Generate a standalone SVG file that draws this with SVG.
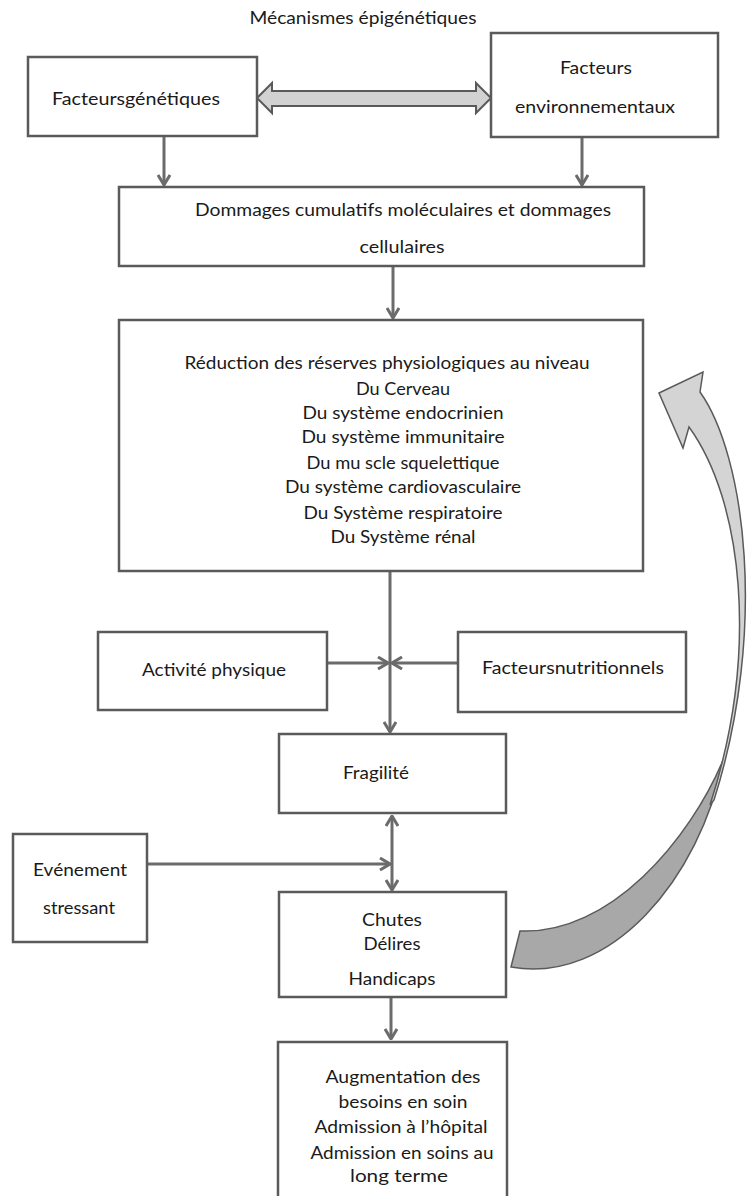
<svg xmlns="http://www.w3.org/2000/svg" width="748" height="1196" viewBox="0 0 748 1196">
<defs>
<style>
.box{fill:#fff;stroke:#5a5a5a;stroke-width:2.5}
.t{font-family:Lato,"Liberation Sans",sans-serif;font-size:17px;fill:#1a1a1a;text-anchor:middle}
.c{fill:none;stroke:#6b6b6b;stroke-width:3}
</style>
<marker id="ah" viewBox="0 0 12 14" refX="11" refY="7" markerWidth="12" markerHeight="14" markerUnits="userSpaceOnUse" orient="auto-start-reverse">
<path d="M1,1 L11,7 L1,13" fill="none" stroke="#6b6b6b" stroke-width="3"/>
</marker>
</defs>
<rect width="748" height="1196" fill="#fff"/>
<text class="t" x="363" y="24" textLength="227" lengthAdjust="spacingAndGlyphs">Mécanismes épigénétiques</text>

<g id="connectors">
<path d="M257,98 L272,83 L272,91 L476,91 L476,83 L491,98 L476,113 L476,106 L272,106 L272,113 Z" fill="#d2d2d2" stroke="#5a5a5a" stroke-width="2"/>
<line class="c" x1="164" y1="137" x2="164" y2="185" marker-end="url(#ah)"/>
<line class="c" x1="582" y1="138" x2="582" y2="185" marker-end="url(#ah)"/>
<line class="c" x1="393" y1="267" x2="393" y2="318" marker-end="url(#ah)"/>
<line class="c" x1="390" y1="572" x2="390" y2="732" marker-end="url(#ah)"/>
<line class="c" x1="328" y1="663" x2="388" y2="663" marker-end="url(#ah)"/>
<line class="c" x1="457" y1="663" x2="392" y2="663" marker-end="url(#ah)"/>
<line class="c" x1="392" y1="816" x2="392" y2="890" marker-start="url(#ah)" marker-end="url(#ah)"/>
<line class="c" x1="148" y1="864" x2="390" y2="864" marker-end="url(#ah)"/>
<line class="c" x1="391" y1="998" x2="391" y2="1039" marker-end="url(#ah)"/>
<path d="M520,931 C610,935 690,840 724,758 C700,880 610,985 511,967 Z" fill="#a8a8a8" stroke="#5a5a5a" stroke-width="1.5"/>
<path d="M659,393 L703,372 L700,392 C745,455 768,630 714,800 L710,805 C760,650 742,500 689,427 L683,448 Z" fill="#d4d4d4" stroke="#5a5a5a" stroke-width="1.5"/>
</g>

<g id="n-genetiques">
<rect class="box" x="28" y="57" width="229" height="79"/>
<text class="t" x="136" y="105" textLength="168" lengthAdjust="spacingAndGlyphs">Facteursgénétiques</text>
</g>
<g id="n-environnementaux">
<rect class="box" x="491" y="33" width="227" height="104"/>
<text class="t" x="596" y="74" textLength="72" lengthAdjust="spacingAndGlyphs">Facteurs</text>
<text class="t" x="595" y="113" textLength="160" lengthAdjust="spacingAndGlyphs">environnementaux</text>
</g>
<g id="n-dommages">
<rect class="box" x="119" y="187" width="525" height="79"/>
<text class="t" x="403" y="216" textLength="416" lengthAdjust="spacingAndGlyphs">Dommages cumulatifs moléculaires et dommages</text>
<text class="t" x="402" y="253" textLength="85" lengthAdjust="spacingAndGlyphs">cellulaires</text>
</g>
<g id="n-reduction">
<rect class="box" x="119" y="320" width="524" height="251"/>
<text class="t" x="387" y="369" textLength="405" lengthAdjust="spacingAndGlyphs">Réduction des réserves physiologiques au niveau</text>
<text class="t" x="403" y="395" textLength="94" lengthAdjust="spacingAndGlyphs">Du Cerveau</text>
<text class="t" x="403" y="419" textLength="201" lengthAdjust="spacingAndGlyphs">Du système endocrinien</text>
<text class="t" x="403" y="443" textLength="203" lengthAdjust="spacingAndGlyphs">Du système immunitaire</text>
<text class="t" x="403" y="469" textLength="193" lengthAdjust="spacingAndGlyphs">Du mu scle squelettique</text>
<text class="t" x="403" y="493" textLength="236" lengthAdjust="spacingAndGlyphs">Du système cardiovasculaire</text>
<text class="t" x="403" y="519" textLength="199" lengthAdjust="spacingAndGlyphs">Du Système respiratoire</text>
<text class="t" x="403" y="543" textLength="145" lengthAdjust="spacingAndGlyphs">Du Système rénal</text>
</g>
<g id="n-activite">
<rect class="box" x="98" y="632" width="229" height="78"/>
<text class="t" x="214" y="676" textLength="144" lengthAdjust="spacingAndGlyphs">Activité physique</text>
</g>
<g id="n-nutritionnels">
<rect class="box" x="458" y="632" width="228" height="80"/>
<text class="t" x="573" y="674" textLength="182" lengthAdjust="spacingAndGlyphs">Facteursnutritionnels</text>
</g>
<g id="n-fragilite">
<rect class="box" x="279" y="734" width="227" height="79"/>
<text class="t" x="376" y="779" textLength="66" lengthAdjust="spacingAndGlyphs">Fragilité</text>
</g>
<g id="n-evenement">
<rect class="box" x="13" y="834" width="134" height="108"/>
<text class="t" x="80" y="876" textLength="94" lengthAdjust="spacingAndGlyphs">Evénement</text>
<text class="t" x="79" y="914" textLength="72" lengthAdjust="spacingAndGlyphs">stressant</text>
</g>
<g id="n-chutes">
<rect class="box" x="279" y="892" width="227" height="105"/>
<text class="t" x="392" y="926" textLength="60" lengthAdjust="spacingAndGlyphs">Chutes</text>
<text class="t" x="392" y="950" textLength="57" lengthAdjust="spacingAndGlyphs">Délires</text>
<text class="t" x="392" y="985" textLength="87" lengthAdjust="spacingAndGlyphs">Handicaps</text>
</g>
<g id="n-augmentation">
<rect class="box" x="278" y="1042" width="229" height="160"/>
<text class="t" x="403" y="1083" textLength="155" lengthAdjust="spacingAndGlyphs">Augmentation des</text>
<text class="t" x="403" y="1108" textLength="129" lengthAdjust="spacingAndGlyphs">besoins en soin</text>
<text class="t" x="401" y="1133" textLength="173" lengthAdjust="spacingAndGlyphs">Admission à l’hôpital</text>
<text class="t" x="402" y="1159" textLength="183" lengthAdjust="spacingAndGlyphs">Admission en soins au</text>
<text class="t" x="399" y="1182" textLength="98" lengthAdjust="spacingAndGlyphs">long terme</text>
</g>
</svg>
